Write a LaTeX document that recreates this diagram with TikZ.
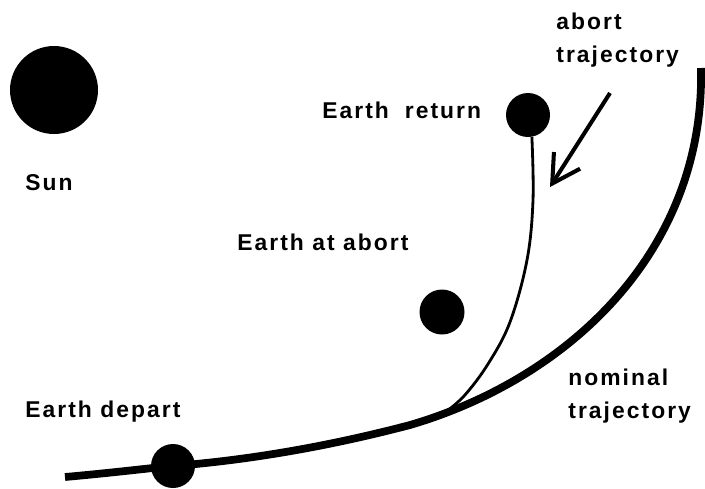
\documentclass[tikz,border=0pt]{standalone}
\usepackage{fontspec}
\setmainfont{Liberation Sans}[LetterSpace=9]
\usepackage{tikz}
\usetikzlibrary{arrows.meta}
\definecolor{ink}{HTML}{000000}

\begin{document}
\begin{tikzpicture}[x=0.02cm,y=-0.02cm,
  body/.style={circle,fill=ink,inner sep=0pt},
  lbl/.style={anchor=base west,inner sep=0pt,text=ink,font=\fontsize{13}{18.8}\selectfont\bfseries},
  lbl2/.style={anchor=north west,inner sep=0pt,align=left,text=ink,font=\fontsize{13}{18.8}\selectfont\bfseries},
  nominal/.style={draw=ink,line width=4.4pt,line cap=butt},
  abortpath/.style={draw=ink,line width=1.6pt},
  pointer/.style={draw=ink,line width=2.3pt,-{Straight Barb[length=0.55cm,width=0.62cm,line width=2.3pt]}}]
  \useasboundingbox (0,0) rectangle (705,488);
  % bodies
  \node[body,minimum size=1.76cm] (sun) at (54,90) {};
  \node[body,minimum size=0.88cm] (earthret) at (528,115) {};
  \node[body,minimum size=0.90cm] (earthab) at (442,312) {};
  \node[body,minimum size=0.88cm] (earthdep) at (173,466) {};
  % labels
  \node[lbl] (sunlbl) at (25,190) {Sun};
  \node[lbl] (retlbl) at (322,118) {Earth\hspace{0.15cm} return};
  \node[lbl] (ablbl) at (237,250) {Earth at abort};
  \node[lbl] (deplbl) at (25,417) {Earth depart};
  \node[lbl2] (abtrlbl) at (556,13) {abort\\trajectory};
  \node[lbl2] (nomlbl) at (568,369) {nominal\\trajectory};
  % trajectories
  \coordinate (nomstart) at (65,477);
  \coordinate (nommid) at (410,425);
  \coordinate (nomend) at (701,68);
  \coordinate (junction) at (443,414);
  \draw[nominal] (nomstart) .. controls (120,472) and (150,468) .. (earthdep.center)
    .. controls (250,460) and (330,446) .. (nommid)
    .. controls (570,378) and (705,250) .. (nomend);
  \draw[abortpath] plot[smooth,tension=0.6] coordinates {(earthret.-80) (533,200) (527,260) (510,322) (488,364) (464,396) (junction)};
  % arrow
  \coordinate (arrtail) at (610,93);
  \coordinate (arrtip) at (550,187);
  \draw[pointer] (arrtail) -- (arrtip);
\end{tikzpicture}
\end{document}
